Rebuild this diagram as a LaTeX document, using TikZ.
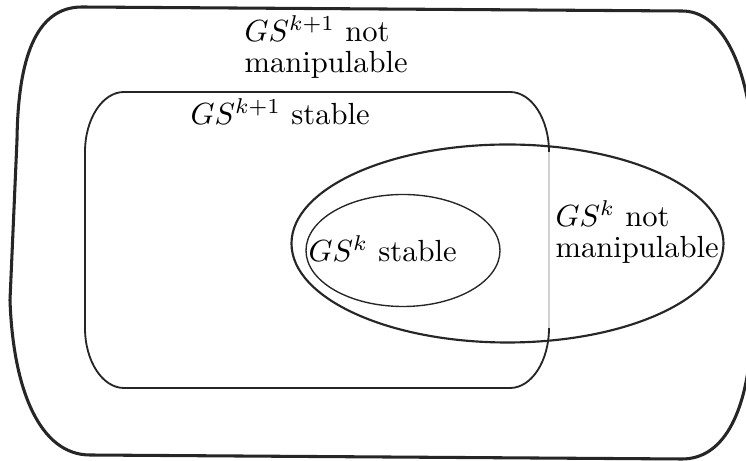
\documentclass[tikz,border=0pt]{standalone}
\begin{document}
\begin{tikzpicture}[x=0.327pt, y=-0.327pt,
    setline/.style={black!85, line join=round},
    settext/.style={inner sep=0pt, anchor=base west, align=left,
      font=\fontsize{10}{10.2}\selectfont}]
    \useasboundingbox (0,0) rectangle (746,461);

    % OUTER SET (GS^{k+1} not manipulable)
    \draw[setline, line width=1pt] (82,7) -- (682,11)
      .. controls (720,11) and (745,60) .. (752,130) -- (752,330)
      .. controls (748,420) and (720,459) .. (682,459) -- (90,455)
      .. controls (40,455) and (13,390) .. (10,300) -- (17,140)
      .. controls (18,60) and (35,7) .. (82,7) -- cycle;

    % GS^{k+1} STABLE (rounded box)
    \draw[setline, line width=0.6pt] (549,328)
      arc[start angle=0, end angle=90, x radius=39, y radius=60] -- (124,388)
      arc[start angle=90, end angle=180, x radius=39, y radius=60] -- (85,152)
      arc[start angle=180, end angle=270, x radius=39, y radius=60] -- (510,92)
      arc[start angle=-90, end angle=0, x radius=39, y radius=60];
    % right edge fades inside the ellipse
    \draw[gray!35, line width=0.6pt] (549,152) -- (549,328);

    % GS^k NOT MANIPULABLE
    \draw[setline, line width=0.7pt] (507.5,243.5) ellipse[x radius=216, y radius=99];

    % GS^k STABLE
    \draw[setline, line width=0.45pt] (403,250.5) ellipse[x radius=97, y radius=56];

    % LABELS (base = last line)
    \node[settext] (notmanipnext) at (244,73) {$GS^{k+1}$ not\\manipulable};
    \node[settext] (stablenext) at (190,125) {$GS^{k+1}$ stable};
    \node[settext] (stablecur) at (308,262) {$GS^{k}$ stable};
    \node[settext] (notmanipcur) at (555,258) {$GS^{k}$ not\\manipulable};
\end{tikzpicture}
\end{document}
